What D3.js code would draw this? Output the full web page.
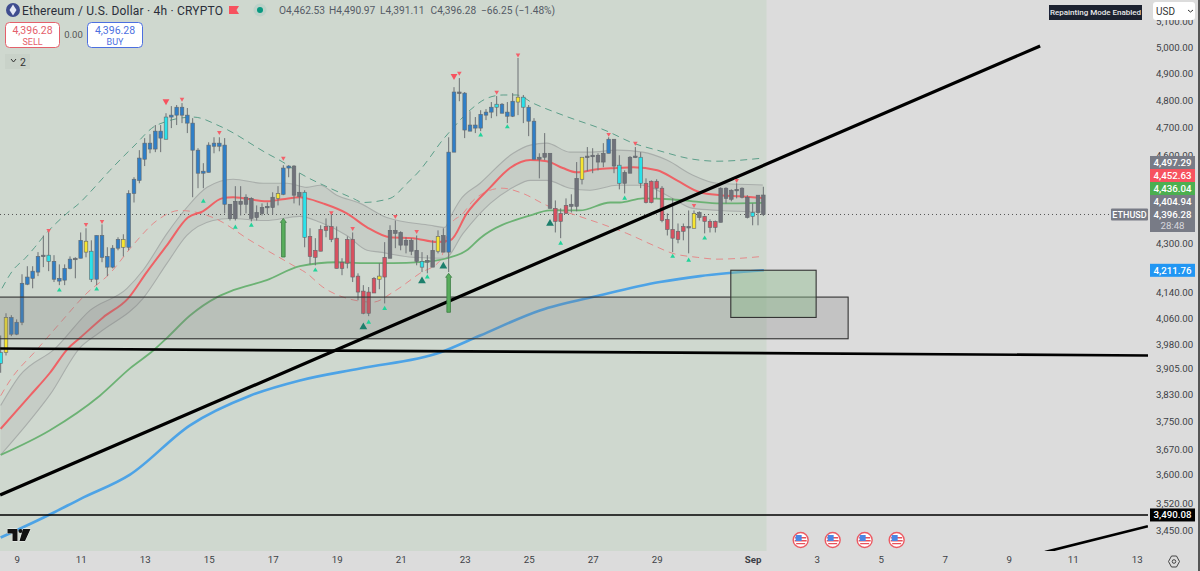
<!DOCTYPE html>
<html>
<head>
<meta charset="utf-8">
<script src="https://cdn.jsdelivr.net/npm/d3@7"></script>
<style>
  html, body { margin: 0; padding: 0; background: #dcdcdc; }
  svg { display: block; font-family: Roboto, sans-serif; }
</style>
</head>
<body>
<div class="box"></div>
<script>
// DATA - candles, one value per 4h bar, first bar is index -1
const highs = [4006,4075,4069,4056,4199,4225,4225,4271,4326,4343,4261,4231,4231,4257,4254,4336,4350,4310,4326,4363,4287,4294,4320,4330,4479,4524,4619,4662,4676,4709,4709,4752,4778,4782,4789,4771,4734,4626,4573,4647,4665,4665,4662,4431,4493,4493,4465,4455,4427,4434,4437,4472,4493,4566,4566,4566,4538,4479,4350,4317,4360,4383,4400,4356,4251,4323,4336,4202,4164,4158,4190,4235,4304,4360,4376,4340,4320,4317,4326,4271,4261,4310,4343,4350,4665,4848,4882,4830,4759,4738,4763,4767,4793,4815,4789,4793,4826,4958,4819,4782,4734,4608,4680,4608,4444,4417,4451,4465,4577,4594,4630,4626,4608,4644,4665,4658,4601,4548,4598,4630,4612,4520,4513,4517,4493,4400,4451,4366,4366,4410,4410,4407,4393,4380,4376,4489,4489,4482,4503,4489,4462,4434,4462,4490.97];
const bodyTops = [3954,4062,4062,4047,4170,4190,4209,4257,4261,4261,4241,4186,4218,4248,4251,4310,4307,4274,4326,4326,4257,4284,4313,4313,4468,4517,4591,4644,4644,4687,4687,4738,4745,4774,4774,4745,4716,4619,4545,4637,4644,4644,4637,4431,4441,4441,4455,4451,4403,4420,4424,4455,4468,4556,4563,4563,4472,4472,4323,4277,4346,4356,4356,4317,4238,4313,4313,4193,4145,4142,4186,4193,4254,4343,4343,4336,4310,4310,4277,4241,4244,4277,4323,4326,4612,4830,4830,4826,4709,4709,4748,4756,4774,4785,4785,4756,4796,4811,4811,4774,4723,4594,4608,4608,4417,4400,4427,4431,4520,4594,4598,4601,4601,4608,4658,4658,4566,4541,4594,4598,4594,4503,4510,4510,4486,4380,4346,4340,4356,4356,4400,4403,4390,4373,4373,4486,4486,4479,4482,4486,4455,4403,4462,4462.53];
const bodyBottoms = [3921,3954,4010,4010,4047,4167,4186,4206,4257,4241,4183,4177,4180,4218,4248,4251,4271,4183,4183,4254,4222,4222,4284,4287,4287,4468,4513,4587,4623,4623,4662,4658,4738,4745,4745,4716,4619,4538,4538,4541,4633,4633,4431,4383,4383,4431,4431,4383,4386,4400,4420,4420,4451,4465,4556,4462,4458,4320,4257,4254,4274,4343,4313,4218,4218,4235,4190,4142,4075,4075,4139,4183,4190,4251,4333,4294,4294,4274,4241,4222,4238,4222,4274,4271,4271,4612,4826,4691,4687,4698,4698,4745,4756,4774,4752,4741,4741,4793,4774,4723,4587,4587,4594,4417,4373,4373,4400,4424,4424,4517,4594,4598,4577,4577,4608,4563,4503,4503,4538,4594,4503,4437,4437,4486,4376,4346,4317,4313,4340,4353,4350,4386,4373,4353,4353,4370,4451,4448,4479,4455,4386,4390,4403,4396.28];
const lows = [3893,3945,4004,4007,4038,4164,4154,4193,4222,4209,4174,4164,4164,4215,4186,4251,4254,4174,4164,4238,4193,4218,4277,4257,4277,4437,4503,4563,4608,4612,4612,4658,4698,4709,4716,4680,4455,4486,4486,4541,4608,4615,4400,4376,4376,4393,4400,4373,4376,4393,4397,4397,4427,4462,4524,4434,4427,4287,4231,4228,4274,4320,4304,4218,4196,4218,4174,4116,4072,4066,4139,4151,4106,4251,4284,4277,4267,4261,4228,4206,4202,4222,4267,4271,4206,4612,4796,4662,4687,4680,4687,4727,4734,4741,4752,4716,4738,4745,4716,4669,4587,4520,4584,4417,4336,4317,4400,4403,4407,4499,4545,4538,4548,4559,4608,4538,4482,4468,4538,4591,4486,4434,4434,4451,4370,4326,4271,4300,4310,4267,4350,4376,4333,4336,4336,4370,4434,4441,4451,4451,4383,4360,4360,4391.11];
// b blue, r red, g grey, y yellow, c cyan
const tones = ('cybbbbbbgc' + 'bbbbgbycbb' + 'bbbybbbbbb' + 'bcbbbbbbbb' + 'bbbggggggg' +
               'ggybbggcrr' + 'rrrrrrrrrr' + 'ryrggggggc' + 'ggygbbgbbb' + 'bbbcbbbycb' +
               'bgggrrrggy' + 'ggggbgcggg' + 'crrrrrrrrg' + 'ygrrrggggg' + 'gcgg').split('');

// indicator lines as [bar, price]
const redMa = [[-1,3729],[4.5,3825],[8.25,3893],[11.6,3966],[13.9,3999],[18.2,4062],[22.9,4122],[26.4,4206],[30.2,4294],[34.1,4386],[36.9,4407],[40.5,4451],[42.6,4455],[48.9,4441],[51.9,4448],[55.1,4455],[56.4,4451],[59.4,4434],[63.9,4400],[67.7,4353],[72,4320],[76.3,4317],[80.8,4304],[83.3,4310],[86.4,4400],[90.8,4489],[94.5,4556],[98.3,4584],[101.4,4580],[104.4,4556],[107,4541],[110.8,4552],[114.6,4556],[117.6,4559],[122.1,4548],[125.8,4513],[130.1,4472],[133.9,4462],[137.6,4458],[141.9,4452.63]];
const greenMa = [[-1,3655],[8.25,3725],[17.6,3825],[23.25,3906],[27.6,3960],[30.2,3999],[34.5,4068],[39.6,4126],[42.6,4148],[48.9,4180],[55.1,4225],[62,4238],[66.9,4235],[72.6,4235],[77.6,4238],[82.7,4251],[86.4,4277],[88.9,4317],[98.3,4393],[102,4410],[107.6,4410],[113.3,4437],[115.1,4437],[119.4,4451],[124.5,4448],[128.8,4441],[133.9,4434],[141.9,4436.04]];
const blueMa = [[-1,3430],[8.6,3494],[13.9,3533],[23.25,3600],[34.5,3739],[45.75,3825],[55.1,3870],[66.4,3906],[81.4,3954],[88.9,4006],[100.1,4084],[111.4,4132],[122.6,4174],[130.1,4193],[142.1,4211.76]];
const upperDash = [[-0.75,4154],[1.3,4212],[3.6,4251],[5.4,4287],[6.9,4320],[11.4,4400],[13.9,4437],[15.75,4472],[19.5,4548],[23.8,4630],[28.3,4709],[35.1,4738],[40.1,4705],[48.9,4608],[51.9,4577],[55.1,4538],[60.75,4486],[65.1,4451],[66.9,4437],[72,4451],[75.2,4503],[77.6,4548],[79.5,4594],[81.4,4644],[83.8,4698],[87,4763],[90.2,4807],[93.2,4819],[95.8,4819],[98.8,4789],[104.4,4745],[112.7,4687],[117.6,4644],[122.1,4619],[128.8,4587],[133.3,4580],[141.9,4591]];
const lowerDash = [[-1,3825],[0.75,3870],[5.8,3963],[10.1,4044],[15.2,4139],[19.5,4202],[23.8,4294],[28.3,4376],[32.6,4410],[39.2,4383],[45.75,4310],[53.8,4228],[56.4,4202],[59.4,4158],[63.2,4126],[68.8,4110],[72.6,4142],[77.6,4202],[81.4,4244],[83.25,4360],[85.7,4400],[87.6,4444],[89.4,4468],[93,4486],[96.9,4468],[101.4,4427],[107,4393],[111.9,4363],[116.4,4333],[121.3,4294],[125,4267],[129.6,4254],[133.3,4248],[141.9,4257]];
const bandUpper = [[-1,3796],[2.6,3885],[9.2,3966],[15.75,4084],[22.7,4154],[25.7,4212],[30.2,4333],[33.9,4420],[37.7,4489],[42.6,4517],[48.2,4503],[52.7,4503],[56.4,4489],[58.9,4496],[62,4462],[66.4,4434],[71.4,4386],[79.5,4360],[82.3,4353],[83.25,4386],[85.1,4444],[88.9,4503],[95.1,4608],[98.3,4637],[101.4,4644],[105.75,4612],[109.5,4612],[114.6,4619],[119.4,4612],[123.9,4584],[128.8,4531],[133.3,4503],[141.9,4497.29]];
const bandLower = [[-1,3655],[4.5,3753],[8.25,3828],[13.9,3969],[17.6,4016],[25.7,4122],[30.2,4235],[33.9,4326],[38.8,4376],[42,4383],[48.6,4376],[55.1,4390],[58.9,4370],[63.9,4326],[67.7,4277],[70.1,4271],[76.3,4254],[82.3,4251],[85.7,4333],[90.8,4434],[95.1,4489],[98.3,4513],[101.4,4513],[105.75,4486],[109.5,4479],[114.6,4496],[119.4,4496],[123.9,4462],[128.8,4417],[133.9,4410],[141.9,4404.94]];

// drawings
const trendUp = [[-1.1,3544],[193.9,5004]];
const flatLine = [[-1.1,3966],[214.5,3945]];
const lowerTrend = [[194.8,3392],[214.1,3460]];
const supportLevel = 3490.08;
const zoneGrey = { bars: [-3,157.9], prices: [4126,3996] };
const zoneGreen = { bars: [135.9,151.9], prices: [4212,4062] };

// signals [bar, price]
const downSmall = [[8,4343],[15,4363],[18,4373],[33,4804],[40,4683],[52,4591],[61,4403],[65,4350],[73,4390],[77,4340],[85,4901],[92,4830],[96,4970],[113,4676],[118,4644],[129,4427],[137,4513]];
const downBig = [[30,4796],[84,4890]];
const upSmall = [[10,4148],[17,4151],[37,4441],[43,4353],[46,4360],[58,4212],[68,4047],[71,4090],[79,4190],[89,4673],[94,4702],[104,4300],[116,4451],[125,4257],[128,4244],[131,4317]];
const upBig = [[67,4032],[78,4177],[82,4225],[102,4366]];
const greenArrows = [[52,4383,4255],[83,4202,4078]];
const usEvents = [149,155,161,167];

// axes
const priceTicks = [5100,5000,4900,4800,4700,4600,4300,4140,4060,3980,3905,3830,3750,3670,3600,3520,3450];
const barTicks = [2,14,26,38,50,62,74,86,98,110,122,140,152,164,176,188,200,212];
const barLabels = ['9','11','13','15','17','19','21','23','25','27','29','Sep','3','5','7','9','11','13'];

const lastPrice = 4396.28;
// right hand tags, top to bottom
const tagValues = [4497.29,4452.63,4436.04,4404.94,4396.28];
const tagColors = ['#787b86','#f7525f','#4caf50','#787b86','#787b86'];

const width = 1200, height = 571;
const svg = d3.select('.box').append('svg')
              .attr('width', width)
              .attr('height', height);

const x = d3.scaleLinear().domain([0, 225]).range([6, 1206]);
const y = d3.scaleLog().domain([3450, 5000]).range([530, 47]);
const priceLine = d3.line().x(d => x(d[0])).y(d => y(d[1]));
const smooth = d3.line().x(d => x(d[0])).y(d => y(d[1])).curve(d3.curveMonotoneX);

const plotRight = 1148, plotBottom = 551, sessionEnd = x(142.6);

// BACKGROUND
svg.append('rect').attr('width', width).attr('height', height).attr('fill', '#dcdcdc');
svg.append('rect').attr('width', sessionEnd).attr('height', plotBottom).attr('fill', '#cfd8cf');
svg.append('rect').attr('x', 1198).attr('width', 2).attr('height', height).attr('fill', '#555');

svg.append('defs').append('clipPath').attr('id', 'plot')
   .append('rect').attr('width', plotRight).attr('height', plotBottom);
const plot = svg.append('g').attr('clip-path', 'url(#plot)');

// INDICATORS
plot.append('path')
    .attr('d', smooth(bandUpper) + 'L' + smooth(bandLower.slice().reverse()).slice(1) + 'Z')
    .attr('fill', '#b4b9b4').attr('fill-opacity', 0.35);
[bandUpper, bandLower].forEach(s => {
  plot.append('path').attr('d', smooth(s)).attr('fill', 'none')
      .attr('stroke', '#a9aeab').attr('stroke-width', 1.1);
});

plot.append('line')
    .attr('x1', 0).attr('x2', 1111)
    .attr('y1', y(lastPrice)).attr('y2', y(lastPrice))
    .attr('stroke', '#555').attr('stroke-dasharray', '1 3');

plot.append('path').attr('d', smooth(upperDash)).attr('fill', 'none')
    .attr('stroke', '#5c9f8a').attr('stroke-width', 1).attr('stroke-dasharray', '7 5');
plot.append('path').attr('d', smooth(lowerDash)).attr('fill', 'none')
    .attr('stroke', '#e58a8a').attr('stroke-width', 1).attr('stroke-dasharray', '7 5');

plot.append('path').attr('d', smooth(blueMa)).attr('fill', 'none')
    .attr('stroke', '#4da3e6').attr('stroke-width', 2.6);
plot.append('path').attr('d', smooth(greenMa)).attr('fill', 'none')
    .attr('stroke', '#6cb274').attr('stroke-width', 1.8);
plot.append('path').attr('d', smooth(redMa)).attr('fill', 'none')
    .attr('stroke', '#ee6266').attr('stroke-width', 2);

// CANDLES
const toneFill = { b: '#2f7fc8', r: '#d9505f', g: '#70727a', y: '#f7e52f', c: '#2be2ea' };
const candles = plot.append('g').selectAll('g').data(highs).join('g');
candles.append('line')
       .attr('x1', (d, i) => x(i - 1)).attr('x2', (d, i) => x(i - 1))
       .attr('y1', d => y(d)).attr('y2', (d, i) => y(lows[i]))
       .attr('stroke', '#6c7074').attr('stroke-width', 1);
candles.append('rect')
       .attr('x', (d, i) => x(i - 1) - 1.8)
       .attr('width', 3.6)
       .attr('y', (d, i) => y(bodyTops[i]))
       .attr('height', (d, i) => Math.max(1.5, y(bodyBottoms[i]) - y(bodyTops[i])))
       .attr('fill', (d, i) => toneFill[tones[i]])
       .attr('stroke', '#62676c').attr('stroke-width', 0.6);

// ZONES
[zoneGrey, zoneGreen].forEach((z, n) => {
  plot.append('rect')
      .attr('x', x(z.bars[0]))
      .attr('width', x(z.bars[1]) - x(z.bars[0]))
      .attr('y', y(z.prices[0]))
      .attr('height', y(z.prices[1]) - y(z.prices[0]))
      .attr('fill', n ? '#8dbb8d' : '#777')
      .attr('fill-opacity', n ? 0.45 : 0.25)
      .attr('stroke', '#333').attr('stroke-width', 1.1);
});

// BLACK DRAWINGS
[trendUp, flatLine, lowerTrend].forEach((s, n) => {
  plot.append('path').attr('d', priceLine(s)).attr('fill', 'none')
      .attr('stroke', '#000').attr('stroke-width', n === 0 ? 3.2 : 2.6);
});
plot.append('line')
    .attr('x1', 0).attr('x2', plotRight)
    .attr('y1', y(supportLevel)).attr('y2', y(supportLevel))
    .attr('stroke', '#000').attr('stroke-width', 1.4);

// SIGNALS
const tri = d3.symbol().type(d3.symbolTriangle);
function marks(list, size, color, flip) {
  plot.append('g').selectAll('path').data(list).join('path')
      .attr('d', tri.size(size)())
      .attr('transform', d => 'translate(' + x(d[0]) + ',' + y(d[1]) + ')' + (flip ? ' rotate(180)' : ''))
      .attr('fill', color);
}
marks(downSmall, 9, '#f4606a', true);
marks(downBig, 20, '#f7525f', true);
marks(upSmall, 10, '#22d39a', false);
marks(upBig, 26, '#1c7f6c', false);

plot.append('g').selectAll('path').data(greenArrows).join('path')
    .attr('d', d => {
      const cx = x(d[0]), top = y(d[1]), bot = y(d[2]);
      return 'M' + cx + ',' + top + 'L' + (cx + 3) + ',' + (top + 4) + 'L' + (cx + 1.8) + ',' + (top + 4) +
             'L' + (cx + 1.8) + ',' + bot + 'L' + (cx - 1.8) + ',' + bot + 'L' + (cx - 1.8) + ',' + (top + 4) +
             'L' + (cx - 3) + ',' + (top + 4) + 'Z';
    })
    .attr('fill', '#58ad5c').attr('stroke', '#3d7d45').attr('stroke-width', 0.8);

// AXES
const yAxis = svg.append('g').attr('transform', 'translate(1154,0)')
                 .call(d3.axisRight(y).tickValues(priceTicks).tickFormat(d3.format(',.2f')).tickSize(0).tickPadding(2));
const xAxis = svg.append('g').attr('transform', 'translate(0,' + plotBottom + ')')
                 .call(d3.axisBottom(x).tickValues(barTicks).tickFormat((d, i) => barLabels[i]).tickSize(0).tickPadding(5));
[yAxis, xAxis].forEach(a => {
  a.select('.domain').remove();
  a.selectAll('text').attr('fill', '#3c3f46').attr('font-size', 9.7).attr('font-family', 'Roboto, sans-serif');
});
xAxis.selectAll('text').filter((d, i) => barLabels[i] === 'Sep').attr('font-weight', 700);

// US EVENT ICONS
const flags = svg.append('g').selectAll('g').data(usEvents).join('g')
                 .attr('transform', d => 'translate(' + x(d) + ',540)');
flags.append('circle').attr('r', 7.5).attr('fill', '#fff').attr('stroke', '#ec5a62').attr('stroke-width', 1.4);
flags.append('path').attr('d', 'M-5.5,-3 H5.5 V-1.6 H-5.5 Z M-6,0 H6 V1.5 H-6 Z M-4.5,3 H4.5 V4.3 H-4.5 Z').attr('fill', '#e8505a');
flags.append('path').attr('d', 'M-5,-5 H1 V1 H-5 Z').attr('fill', '#4a86e4');

// TAGS ON THE PRICE AXIS
const tagY = [];
for (let i = tagValues.length - 1; i >= 0; i--) {
  const py = y(tagValues[i]);
  tagY[i] = i === tagValues.length - 1 ? py : Math.min(py, tagY[i + 1] - 13);
}
tagValues.forEach((v, i) => {
  svg.append('rect').attr('x', 1150).attr('width', 45)
     .attr('y', tagY[i] - 6.5).attr('height', i === 4 ? 24 : 13)
     .attr('fill', tagColors[i]);
  svg.append('text').attr('x', 1172.5).attr('y', tagY[i] + 3.5)
     .attr('text-anchor', 'middle').attr('font-size', 9.7).attr('font-weight', 500).attr('fill', '#fff')
     .text(d3.format(',.2f')(v));
});
svg.append('text').attr('x', 1172.5).attr('y', tagY[4] + 14.5)
   .attr('text-anchor', 'middle').attr('font-size', 9.7).attr('fill', '#d6d6dc').text('28:48');

function plainTag(v, bg) {
  svg.append('rect').attr('x', 1150).attr('width', 45).attr('y', y(v) - 6.5).attr('height', 13).attr('fill', bg);
  svg.append('text').attr('x', 1172.5).attr('y', y(v) + 3.5)
     .attr('text-anchor', 'middle').attr('font-size', 9.7).attr('font-weight', 500).attr('fill', '#fff')
     .text(d3.format(',.2f')(v));
}
plainTag(4211.76, '#2196f3');
plainTag(supportLevel, '#000');

svg.append('rect').attr('x', 1111).attr('y', y(lastPrice) - 6).attr('width', 37).attr('height', 12).attr('fill', '#787b86').attr('rx', 1);
svg.append('text').attr('x', 1129.5).attr('y', y(lastPrice) + 3.4)
   .attr('text-anchor', 'middle').attr('font-size', 9).attr('font-weight', 500).attr('fill', '#fff').text('ETHUSD');

// TOP LEFT HEADER
const head = svg.append('g');
head.append('circle').attr('cx', 13).attr('cy', 10).attr('r', 7).attr('fill', '#3f4d8f');
head.append('path').attr('d', 'M13,4.5 L16.5,10 L13,15.5 L9.5,10 Z').attr('fill', '#e4e8f5');
head.append('text').attr('x', 22).attr('y', 14.5).attr('font-size', 12).attr('fill', '#2a2e39').attr('letter-spacing', 0.2)
    .text('Ethereum / U.S. Dollar · 4h · CRYPTO');
head.append('path').attr('d', 'M229,6 H239 L236.5,10 L239,14 H229 Z').attr('fill', '#f7525f');
head.append('circle').attr('cx', 260).attr('cy', 10).attr('r', 6.5).attr('fill', '#bdd2c9');
head.append('circle').attr('cx', 260).attr('cy', 10).attr('r', 3).attr('fill', '#089981');

// readings placed one by one, the gaps in the source are wider than a space
const ohlcTexts = ['O4,462.53', 'H4,490.97', 'L4,391.11', 'C4,396.28', '−66.25 (−1.48%)'];
const ohlcStarts = [279, 329, 380, 430.5, 481];
ohlcTexts.forEach((t, i) => {
  head.append('text').attr('x', ohlcStarts[i]).attr('y', 14).attr('font-size', 10.2).attr('fill', '#555b66').text(t);
});

function tradeBox(bx, bw, color, price, word) {
  head.append('rect').attr('x', bx).attr('y', 22.5).attr('width', bw).attr('height', 25).attr('rx', 4)
      .attr('fill', '#fff').attr('stroke', color).attr('stroke-width', 1);
  head.append('text').attr('x', bx + bw / 2).attr('y', 34).attr('text-anchor', 'middle')
      .attr('font-size', 10.5).attr('fill', color).text(price);
  head.append('text').attr('x', bx + bw / 2).attr('y', 44.5).attr('text-anchor', 'middle')
      .attr('font-size', 9).attr('fill', color).text(word);
}
tradeBox(5.5, 54, '#e4606b', '4,396.28', 'SELL');
tradeBox(87.5, 55, '#4c6fe0', '4,396.28', 'BUY');
head.append('text').attr('x', 73.5).attr('y', 38).attr('text-anchor', 'middle').attr('font-size', 9.5).attr('fill', '#555').text('0.00');

head.append('rect').attr('x', 5).attr('y', 54).attr('width', 25).attr('height', 15).attr('fill', '#c9d2c9');
head.append('path').attr('d', 'M11,59 L13.5,62 L16,59').attr('fill', 'none').attr('stroke', '#333').attr('stroke-width', 1);
head.append('text').attr('x', 20).attr('y', 65.5).attr('font-size', 10.5).attr('fill', '#333').text('2');

// TOP RIGHT
svg.append('rect').attr('x', 1049).attr('y', 5).attr('width', 93).attr('height', 15).attr('fill', '#1c2230');
svg.append('text').attr('x', 1095.5).attr('y', 15.3).attr('text-anchor', 'middle')
   .attr('font-size', 8).attr('font-weight', 500).attr('fill', '#e8e8e8').text('Repainting Mode Enabled');
svg.append('rect').attr('x', 1153).attr('y', 2).attr('width', 42).attr('height', 18).attr('rx', 3).attr('fill', '#fff');
svg.append('text').attr('x', 1156).attr('y', 14.5).attr('font-size', 10).attr('fill', '#333').text('USD');
svg.append('path').attr('d', 'M1188,10 L1190.5,12 L1193,10').attr('fill', 'none').attr('stroke', '#333').attr('stroke-width', 1);

// TV LOGO AND SETTINGS ICON
svg.append('path')
   .attr('d', 'M7.5,529 H17.5 V541 H12.5 V533.5 H7.5 Z M23,529 H30.5 L25,541 H19.5 Z')
   .attr('fill', '#111').attr('stroke', '#fff').attr('stroke-width', 0.8).attr('paint-order', 'stroke');
svg.append('circle').attr('cx', 20.5).attr('cy', 531).attr('r', 2).attr('fill', '#111');
svg.append('path')
   .attr('d', 'M1171.5,556 L1176.5,556 L1179.5,561.5 L1176.5,567 L1171.5,567 L1168.5,561.5 Z')
   .attr('fill', 'none').attr('stroke', '#444').attr('stroke-width', 1);
svg.append('circle').attr('cx', 1174).attr('cy', 561.5).attr('r', 1.8).attr('fill', 'none').attr('stroke', '#444');
</script>
</body>
</html>
